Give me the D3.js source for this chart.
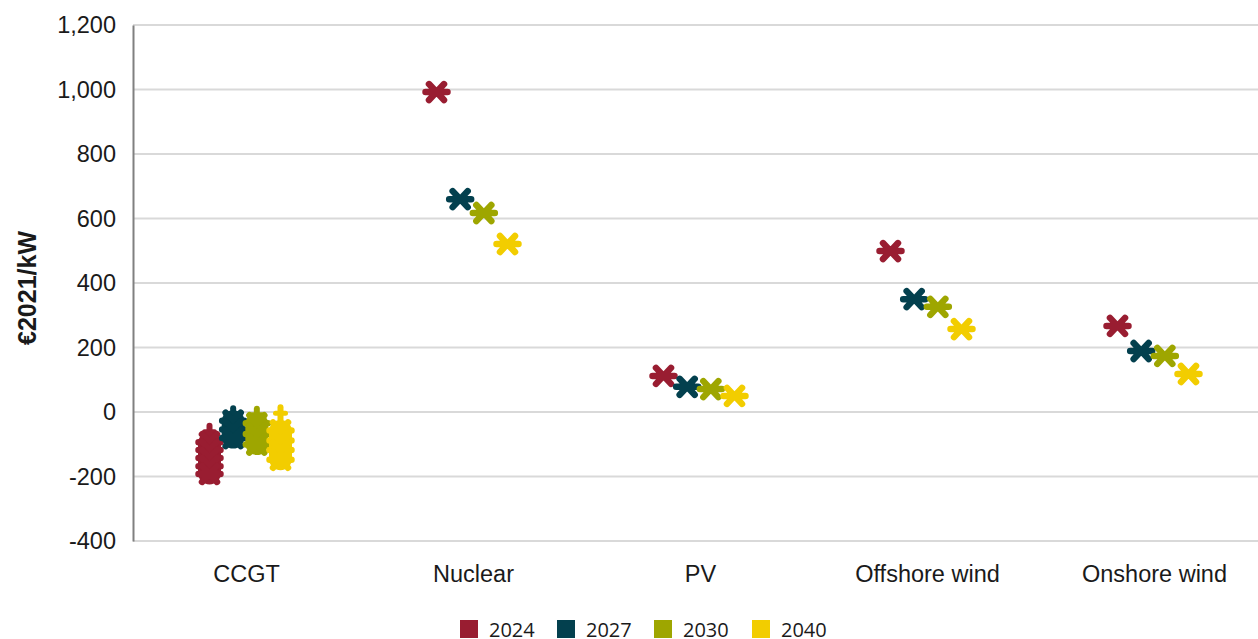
<!DOCTYPE html>
<html>
<head>
<meta charset="utf-8">
<script src="https://cdn.jsdelivr.net/npm/d3@7"></script>
<style>
  body { margin: 0; background: #fff; }
  text { font-family: "Liberation Sans", Arial, sans-serif; fill: #1a1a1a; }
</style>
</head>
<body>
<script>
// categories, series and values
var categories = ["CCGT", "Nuclear", "PV", "Offshore wind", "Onshore wind"];
var years = ["2024", "2027", "2030", "2040"];
var colors = ["#991d31", "#03404e", "#9ea600", "#f2cd00"];
var yTicks = [-400, -200, 0, 200, 400, 600, 800, 1000, 1200];

// one value per year for the single point categories
var nuclear = [992, 660, 617, 521];
var pv = [112, 78, 71, 50];
var offshore = [499, 350, 326, 257];
var onshore = [267, 189, 174, 118];

// CCGT is a spread of values per year, plus the top of its range
var ccgtTop = [-43, 12, 10, 15];
var ccgt2024 = [-94, -118, -143, -168, -192];
var ccgt2027 = [-27, -54, -81];
var ccgt2030 = [-35, -68, -101];
var ccgt2040 = [-57, -88, -118, -148];

var width = 1258, height = 639;

var svg = d3.select("body").append("svg")
    .attr("width", width)
    .attr("height", height);

var x = d3.scaleBand().domain(categories).range([133, 1268]);
var sub = d3.scalePoint().domain(years).range([-37, 34]);
var y = d3.scaleLinear().domain([-400, 1200]).range([541, 25]);
var color = d3.scaleOrdinal().domain(years).range(colors);

// gridlines
svg.append("g")
    .selectAll("line")
    .data(yTicks)
    .enter()
    .append("line")
    .attr("x1", 133)
    .attr("x2", width)
    .attr("y1", function(d) { return y(d); })
    .attr("y2", function(d) { return y(d); })
    .style("stroke", "#d9d9d9")
    .style("stroke-width", 2);

// y axis, plain hyphen for negatives like the original
var fmt = d3.format(",");
var yAxis = svg.append("g")
    .attr("transform", "translate(133,0)")
    .call(d3.axisLeft(y).tickValues(yTicks).tickSize(0).tickPadding(17)
        .tickFormat(function(d) { return fmt(d).replace("\u2212", "-"); }));
yAxis.select(".domain").style("stroke", "#808080").style("stroke-width", 2);
yAxis.selectAll("text")
    .style("font-size", "23.5px")
    .style("font-family", "Liberation Sans, Arial, sans-serif")
    .attr("fill", "#1a1a1a");

svg.append("text")
    .attr("transform", "translate(36,288) rotate(-90)")
    .attr("text-anchor", "middle")
    .style("font-size", "25px")
    .style("font-weight", "bold")
    .text("€2021/kW");

// category labels
svg.append("g")
    .selectAll("text")
    .data(categories)
    .enter()
    .append("text")
    .attr("x", function(d) { return x(d) + x.bandwidth() / 2; })
    .attr("y", 582)
    .attr("text-anchor", "middle")
    .style("font-size", "23.5px")
    .text(function(d) { return d; });

// asterisk marker
var star = "M-11,0L11,0M-7.5,-8L7.5,8M-7.5,8L7.5,-8";

function drawStar(g, cx, cy, c) {
    g.append("path")
        .attr("d", star)
        .attr("transform", "translate(" + cx + "," + cy + ")")
        .style("stroke", c)
        .style("stroke-width", 6.5)
        .style("stroke-linecap", "round")
        .style("fill", "none");
}

var marks = svg.append("g");

// CCGT columns: stem to top of range, solid body behind the markers
var ccgtSets = [ccgt2024, ccgt2027, ccgt2030, ccgt2040];
ccgtSets.forEach(function(vals, i) {
    var yr = years[i];
    var cx = x("CCGT") + x.bandwidth() / 2 + sub(yr);
    var c = color(yr);
    var top = y(ccgtTop[i]);
    marks.append("line")
        .attr("x1", cx).attr("x2", cx)
        .attr("y1", top).attr("y2", y(d3.max(vals)))
        .style("stroke", c)
        .style("stroke-width", 6)
        .style("stroke-linecap", "round");
    marks.append("line")
        .attr("x1", cx - 5).attr("x2", cx + 5)
        .attr("y1", top + 6).attr("y2", top + 6)
        .style("stroke", c)
        .style("stroke-width", 5)
        .style("stroke-linecap", "round");
    marks.append("line")
        .attr("x1", cx).attr("x2", cx)
        .attr("y1", y(d3.max(vals)) + 1).attr("y2", y(d3.min(vals)) - 1)
        .style("stroke", c)
        .style("stroke-width", 23)
        .style("stroke-linecap", "round");
    vals.forEach(function(v) {
        drawStar(marks, cx, y(v), c);
    });
});

// single point categories
var pointSets = [["Nuclear", nuclear], ["PV", pv],
    ["Offshore wind", offshore], ["Onshore wind", onshore]];
pointSets.forEach(function(p) {
    p[1].forEach(function(v, i) {
        var yr = years[i];
        drawStar(marks, x(p[0]) + x.bandwidth() / 2 + sub(yr), y(v), color(yr));
    });
});

// legend
var legendX = [460, 557, 654, 752];
var legend = svg.append("g")
    .selectAll("g")
    .data(years)
    .enter()
    .append("g")
    .attr("transform", function(d, i) { return "translate(" + legendX[i] + ",620)"; });
legend.append("rect")
    .attr("width", 18)
    .attr("height", 18)
    .style("fill", function(d) { return color(d); });
legend.append("text")
    .attr("x", 29)
    .attr("y", 17)
    .style("font-family", "Open Sans, sans-serif")
    .style("font-size", "20px")
    .text(function(d) { return d; });
</script>
</body>
</html>
